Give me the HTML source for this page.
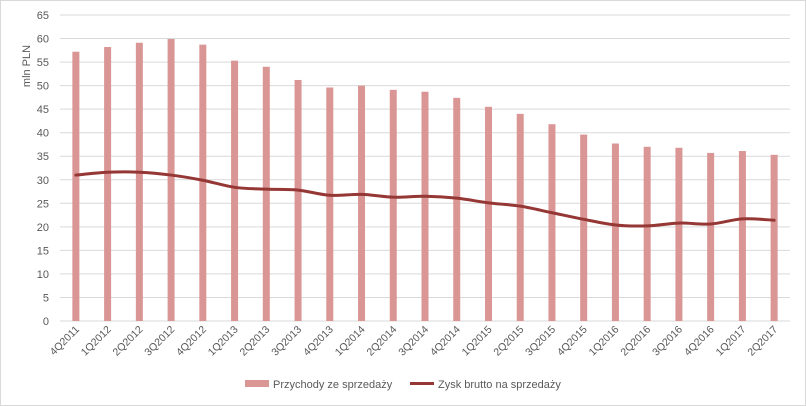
<!DOCTYPE html>
<html><head><meta charset="utf-8"><style>
body{margin:0;background:#fff;}
svg{display:block;font-family:"Liberation Sans",sans-serif;}
</style></head><body>
<svg id="c" width="806" height="406">
<rect x="0.5" y="0.5" width="805" height="405" fill="#fff" stroke="#d9d9d9"/>
<g id="grid"></g><g id="bars"></g><g id="line"></g><g id="xl"></g><g id="yl"></g>
<text transform="translate(30,66) rotate(-90)" text-anchor="middle" font-size="11" fill="#595959">mln PLN</text>
<g>
<rect x="245" y="380" width="24" height="7" fill="#d99694"/>
<text x="273" y="388" font-size="11" fill="#595959">Przychody ze sprzedaży</text>
<line x1="410" y1="383.5" x2="434" y2="383.5" stroke="#953735" stroke-width="3"/>
<text x="438" y="388" font-size="11" fill="#595959">Zysk brutto na sprzedaży</text>
</g>
</svg>
<script>
const categories=["4Q2011","1Q2012","2Q2012","3Q2012","4Q2012","1Q2013","2Q2013","3Q2013","4Q2013","1Q2014","2Q2014","3Q2014","4Q2014","1Q2015","2Q2015","3Q2015","4Q2015","1Q2016","2Q2016","3Q2016","4Q2016","1Q2017","2Q2017"];
const revenue=[57.2,58.2,59.1,59.9,58.7,55.3,54.0,51.2,49.6,50.0,49.1,48.7,47.4,45.5,44.0,41.8,39.6,37.7,37.0,36.8,35.7,36.1,35.3];
const profit=[31.0,31.6,31.6,31.0,29.9,28.4,28.0,27.8,26.7,26.9,26.3,26.5,26.1,25.1,24.4,23.0,21.6,20.4,20.2,20.8,20.6,21.7,21.4];
const yTicks=[0,5,10,15,20,25,30,35,40,45,50,55,60,65];
const NS="http://www.w3.org/2000/svg";
const X0=60,X1=790,Y0=321,Y1=15,YMAX=65;
const step=(X1-X0)/categories.length;
const xc=i=>X0+step*(i+0.5);
const y=v=>Y0-(v/YMAX)*(Y0-Y1);
function mk(t,a,p){const e=document.createElementNS(NS,t);for(const k in a)e.setAttribute(k,a[k]);p.appendChild(e);return e;}
const grid=document.getElementById('grid'),yl=document.getElementById('yl');
yTicks.forEach(v=>{
 const l=mk('line',{x1:X0,x2:X1,y1:y(v),y2:y(v),stroke:'#d9d9d9','stroke-width':1},grid);
 
 
 const t=mk('text',{x:49,y:y(v)+4,'text-anchor':'end','font-size':11,fill:'#595959'},yl);
 t.textContent=v;
 
 
});
const bars=document.getElementById('bars'),xl=document.getElementById('xl');
revenue.forEach((v,i)=>{
 const r=mk('rect',{x:xc(i)-3.5,y:y(v),width:7,height:Y0-y(v),fill:'#d99694'},bars);
 
 
});
categories.forEach((c,i)=>{
 const t=mk('text',{transform:`translate(${xc(i)+4},${Y0+9}) rotate(-45)`,'text-anchor':'end','font-size':10.5,fill:'#595959'},xl);
 t.textContent=c;
 
 
});
const pts=profit.map((v,i)=>[xc(i),y(v)]);
let d=`M${pts[0][0]},${pts[0][1]}`;
for(let i=0;i<pts.length-1;i++){
 const p0=pts[Math.max(0,i-1)],p1=pts[i],p2=pts[i+1],p3=pts[Math.min(pts.length-1,i+2)];
 const k=1/6;
 d+=` C${p1[0]+(p2[0]-p0[0])*k},${p1[1]+(p2[1]-p0[1])*k} ${p2[0]-(p3[0]-p1[0])*k},${p2[1]-(p3[1]-p1[1])*k} ${p2[0]},${p2[1]}`;
}
const ln=mk('path',{d:d,fill:'none',stroke:'#953735','stroke-width':3,'stroke-linecap':'round'},document.getElementById('line'));


</script>
</body></html>
